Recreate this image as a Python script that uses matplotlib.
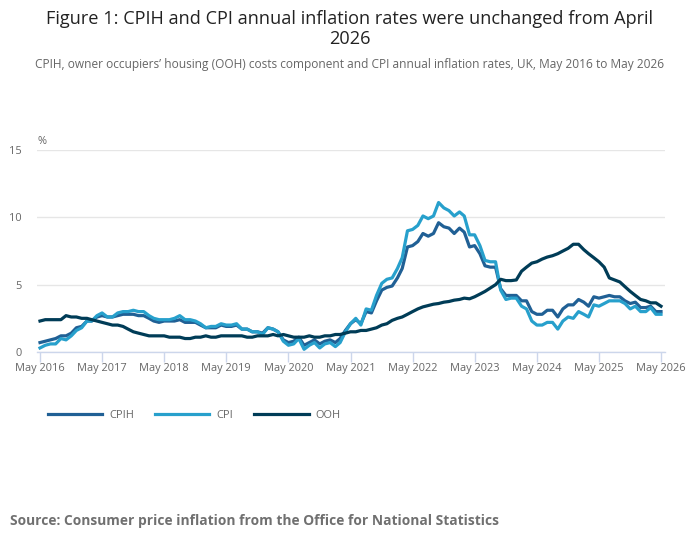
import numpy as np
import pandas as pd
import matplotlib
matplotlib.use('Agg')
import matplotlib.pyplot as plt
import matplotlib.dates as mdates

plt.rcParams['font.family'] = ['Open Sans', 'DejaVu Sans']

# monthly, May 2016 to May 2026
months = pd.date_range('2016-05-01', '2026-05-01', freq='MS')

cpih = [0.7, 0.8, 0.9, 1.0, 1.2, 1.2, 1.4, 1.8,
        1.9, 2.3, 2.3, 2.6, 2.7, 2.6, 2.6, 2.7, 2.8, 2.8, 2.8, 2.7,
        2.7, 2.5, 2.3, 2.2, 2.3, 2.3, 2.3, 2.4, 2.2, 2.2, 2.2, 2.0,
        1.8, 1.8, 1.8, 2.0, 1.9, 1.9, 2.0, 1.7, 1.7, 1.5, 1.5, 1.4,
        1.8, 1.7, 1.5, 0.9, 0.7, 0.8, 1.1, 0.5, 0.7, 0.9, 0.6, 0.8,
        0.9, 0.7, 1.0, 1.6, 2.1, 2.4, 2.1, 3.0, 2.9, 3.8, 4.6, 4.8,
        4.9, 5.5, 6.2, 7.8, 7.9, 8.2, 8.8, 8.6, 8.8, 9.6, 9.3, 9.2,
        8.8, 9.2, 8.9, 7.8, 7.9, 7.3, 6.4, 6.3, 6.3, 4.7, 4.2, 4.2,
        4.2, 3.8, 3.8, 3.0, 2.8, 2.8, 3.1, 3.1, 2.6, 3.2, 3.5, 3.5,
        3.9, 3.7, 3.4, 4.1, 4.0, 4.1, 4.2, 4.1, 4.1, 3.8, 3.6, 3.7,
        3.3, 3.3, 3.4, 3.0, 3.0]

cpi = [0.3, 0.5, 0.6, 0.6, 1.0, 0.9, 1.2, 1.6,
       1.8, 2.3, 2.3, 2.7, 2.9, 2.6, 2.6, 2.9, 3.0, 3.0, 3.1, 3.0,
       3.0, 2.7, 2.5, 2.4, 2.4, 2.4, 2.5, 2.7, 2.4, 2.4, 2.3, 2.1,
       1.8, 1.9, 1.9, 2.1, 2.0, 2.0, 2.1, 1.7, 1.7, 1.5, 1.5, 1.3,
       1.8, 1.7, 1.5, 0.8, 0.5, 0.6, 1.0, 0.2, 0.5, 0.7, 0.3, 0.6,
       0.7, 0.4, 0.7, 1.5, 2.1, 2.5, 2.0, 3.2, 3.1, 4.2, 5.1, 5.4,
       5.5, 6.2, 7.0, 9.0, 9.1, 9.4, 10.1, 9.9, 10.1, 11.1, 10.7, 10.5,
       10.1, 10.4, 10.1, 8.7, 8.7, 7.9, 6.8, 6.7, 6.7, 4.6, 3.9, 4.0,
       4.0, 3.4, 3.2, 2.3, 2.0, 2.0, 2.2, 2.2, 1.7, 2.3, 2.6, 2.5,
       3.0, 2.8, 2.6, 3.5, 3.4, 3.6, 3.8, 3.8, 3.8, 3.6, 3.2, 3.4,
       3.0, 3.0, 3.3, 2.8, 2.8]

ooh = [2.3, 2.4, 2.4, 2.4, 2.4, 2.7, 2.6, 2.6,
       2.5, 2.5, 2.4, 2.3, 2.2, 2.1, 2.0, 2.0, 1.9, 1.7, 1.5, 1.4,
       1.3, 1.2, 1.2, 1.2, 1.2, 1.1, 1.1, 1.1, 1.0, 1.0, 1.1, 1.1,
       1.2, 1.1, 1.1, 1.2, 1.2, 1.2, 1.2, 1.2, 1.1, 1.1, 1.2, 1.2,
       1.2, 1.3, 1.2, 1.3, 1.2, 1.1, 1.1, 1.1, 1.2, 1.1, 1.1, 1.2,
       1.2, 1.3, 1.3, 1.4, 1.5, 1.5, 1.6, 1.6, 1.7, 1.8, 2.0, 2.1,
       2.35, 2.5, 2.6, 2.8, 3.0, 3.2, 3.35, 3.45, 3.55, 3.6, 3.7, 3.75,
       3.85, 3.9, 4.0, 3.95, 4.1, 4.3, 4.5, 4.75, 5.0, 5.4, 5.3, 5.3,
       5.35, 6.0, 6.3, 6.6, 6.7, 6.9, 7.05, 7.15, 7.3, 7.5, 7.7, 8.0,
       8.0, 7.6, 7.3, 7.0, 6.7, 6.3, 5.5, 5.35, 5.2, 4.85, 4.5, 4.2,
       3.9, 3.8, 3.65, 3.65, 3.4]

series = [('CPIH', cpih, '#206095'), ('CPI', cpi, '#27a0cc'), ('OOH', ooh, '#003c57')]

fig = plt.figure(figsize=(7, 5.49), dpi=100)
ax = fig.add_axes([37 / 700, 1 - 352 / 549, 628 / 700, 202 / 549])

for name, vals, col in series:
    ax.plot(months, vals, color=col, lw=2.3, label=name, solid_joinstyle='round')

d0 = mdates.date2num(months[0])
d1 = mdates.date2num(months[-1])
span = d1 - d0
ax.set_xlim(d0 - 3 / 621 * span, d1 + 4 / 621 * span)
ax.set_ylim(0, 15)

ax.set_yticks([0, 5, 10, 15])
ax.set_yticklabels(['0', '5', '10', '15'])
tick_dates = months[::12]
ax.set_xticks(tick_dates)
ax.set_xticklabels([d.strftime('%b %Y') for d in tick_dates])

ax.grid(axis='y', color='#e6e6e6', lw=1)
ax.set_axisbelow(True)
for s in ['top', 'right', 'left']:
    ax.spines[s].set_visible(False)
ax.spines['bottom'].set_color('#ccd6eb')
ax.spines['bottom'].set_linewidth(1)

ax.tick_params(axis='y', length=0, pad=11, labelsize=7.9, labelcolor='#666666')
ax.tick_params(axis='x', length=7, width=1, color='#ccd6eb', pad=1,
               labelsize=7.9, labelcolor='#666666')

fig.text(37 / 700, 1 - 142 / 549, '%', fontsize=7.9, color='#666666', va='center', ha='left')

fig.text(0.5, 1 - 29 / 549,
         'Figure 1: CPIH and CPI annual inflation rates were unchanged from April\n2026',
         ha='center', va='center', fontsize=13.1, color='#222222', linespacing=1.2)
fig.text(0.5, 1 - 64 / 549,
         'CPIH, owner occupiers\u2019 housing (OOH) costs component and CPI annual inflation rates, UK, May 2016 to May 2026',
         ha='center', va='center', fontsize=8.55, color='#666666')

leg = ax.legend(loc='center left', bbox_to_anchor=(48 / 700, 1 - 415 / 549),
                bbox_transform=fig.transFigure, ncol=3, frameon=False,
                handlelength=4.95, handletextpad=0.65, columnspacing=1.9,
                fontsize=7.9, borderaxespad=0, borderpad=0)
for t in leg.get_texts():
    t.set_color('#666666')

fig.text(10 / 700, 1 - 521 / 549,
         'Source: Consumer price inflation from the Office for National Statistics',
         ha='left', va='center', fontsize=9.95, fontweight='bold', color='#707070')

fig.savefig('out.png', dpi=100)
